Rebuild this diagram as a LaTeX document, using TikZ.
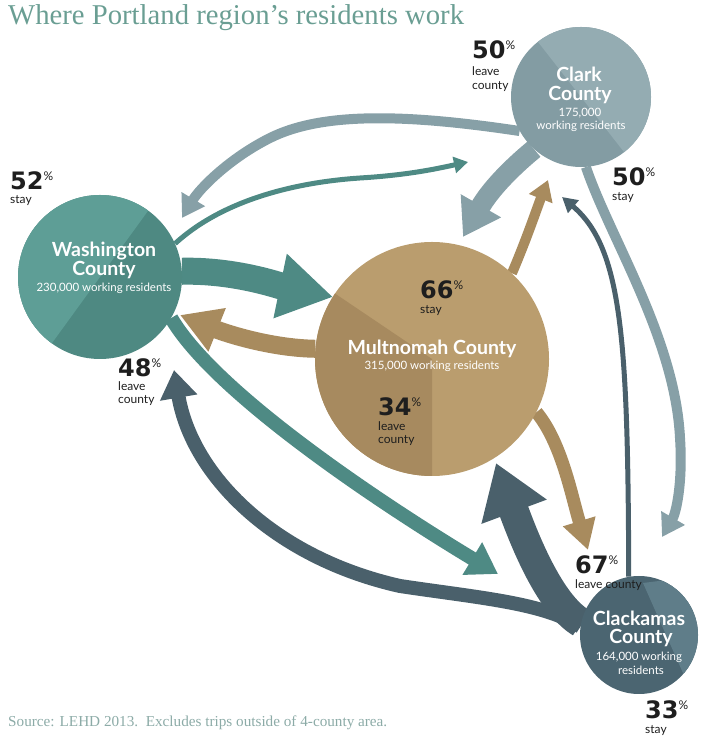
\documentclass[tikz,border=0pt]{standalone}
\usepackage{fontspec}
\setmainfont{Lato}
\newfontfamily\titlefont{Liberation Serif}
\newfontfamily\numfont{DejaVu Sans}
\usepackage{xcolor}
\definecolor{washlight}{HTML}{5E9E96}
\definecolor{washdark}{HTML}{4E8982}
\definecolor{multlight}{HTML}{BA9D6E}
\definecolor{multdark}{HTML}{A78A5F}
\definecolor{clarklight}{HTML}{94ACB2}
\definecolor{clarkdark}{HTML}{839CA3}
\definecolor{clackdark}{HTML}{4B6571}
\definecolor{clacklight}{HTML}{5F7D89}
\definecolor{washarrow}{HTML}{4E8A84}
\definecolor{multarrow}{HTML}{A88B5E}
\definecolor{clarkarrow}{HTML}{87A0A7}
\definecolor{clackarrow}{HTML}{4A606B}
\definecolor{inkblack}{HTML}{1E1E1E}
\definecolor{titleteal}{HTML}{6A9E93}
\definecolor{sourcegray}{HTML}{8CABA7}
\usetikzlibrary{arrows.meta, backgrounds}
\newcommand{\pctnum}[1]{{\numfont\bfseries\fontsize{24}{24}\selectfont #1}\raisebox{9pt}{\fontsize{12}{12}\selectfont\%}}

\begin{document}
\begin{tikzpicture}[x=1pt, y=1pt,
  county/.style={circle, inner sep=0pt, draw=none},
  cname/.style={text=white, font=\bfseries\fontsize{19.5}{19.5}\selectfont, anchor=base, inner sep=0pt},
  cinfo/.style={text=white, font=\fontsize{11.5}{11.5}\selectfont, anchor=base, inner sep=0pt},
  pct/.style={text=inkblack, anchor=base west, inner sep=0pt},
  note/.style={text=inkblack, font=\fontsize{12}{12}\selectfont, anchor=base west, inner sep=0pt},
  flow/.style n args={3}{line width=#1, -{Triangle[width=#2, length=#3]}}
]
\useasboundingbox (0,0) rectangle (702,738);

\node[anchor=base west, inner sep=0pt, text=titleteal, font=\titlefont\fontsize{28.7}{28.7}\selectfont] (title) at (8,713) {Where Portland region’s residents work};
\node[anchor=base west, inner sep=0pt, text=sourcegray, font=\titlefont\fontsize{15.2}{15.2}\selectfont] (source) at (8,11) {Source: LEHD 2013.\ \ Excludes trips outside of 4-county area.};

\node[county, minimum size=164pt, fill=washdark, path picture={
  \fill[washlight] (path picture bounding box.center) ++(54:100) arc[start angle=54, end angle=234, radius=100] -- cycle;}] (wash) at (100,461) {};
\node[county, minimum size=234pt, fill=multlight, path picture={
  \fill[multdark] (path picture bounding box.center) -- ++(146:130) arc[start angle=146, end angle=270, radius=130] -- cycle;}] (mult) at (432,379) {};
\node[county, minimum size=140pt, fill=clarkdark, path picture={
  \fill[clarklight] (path picture bounding box.center) ++(-52:90) arc[start angle=-52, end angle=128, radius=90] -- cycle;}] (clark) at (581,641) {};
\node[county, minimum size=118pt, fill=clackdark, path picture={
  \fill[clacklight] (path picture bounding box.center) ++(4,52) -- ++(40,-90) -- ++(40,0) -- ++(0,100) -- cycle;}] (clack) at (639,103) {};

\coordinate (wmtip) at (333,441);
\coordinate (wctip) at (468,576);
\coordinate (wktip) at (498,164);
\coordinate (mwtip) at (180,423);
\coordinate (mctip) at (548,558);
\coordinate (mktip) at (588,188);
\coordinate (cwtip) at (182,520);
\coordinate (cmtip) at (463,501);
\coordinate (cktip) at (662,201);
\coordinate (kctip) at (562,541);
\coordinate (kmtip) at (496,275);
\coordinate (kwtip) at (174,368);

\begin{scope}[on background layer]
\draw[flow={27pt}{62pt}{54pt}, washarrow] (wash.4) .. controls (235,468) and (280,452) .. (wmtip);
\draw[flow={5pt}{16pt}{14pt}, washarrow] (wash.24) .. controls (225,540) and (300,556) .. (360,560) .. controls (410,563) and (440,570) .. (wctip);
\draw[flow={14pt}{36pt}{30pt}, washarrow] (wash.-30) .. controls (215,345) and (380,235) .. (wktip);
\draw[flow={18pt}{44pt}{40pt}, multarrow] (mult.175) .. controls (270,390) and (225,405) .. (mwtip);
\draw[flow={10pt}{24pt}{20pt}, multarrow] (mult.47) .. controls (527,500) and (537,530) .. (mctip);
\draw[flow={13pt}{32pt}{30pt}, multarrow] (mult.-27) .. controls (562,295) and (572,240) .. (mktip);
\draw[flow={10pt}{26pt}{22pt}, clarkarrow] (clark.209) .. controls (400,625) and (320,625) .. (270,600) .. controls (230,580) and (200,550) .. (cwtip);
\draw[flow={20pt}{44pt}{36pt}, clarkarrow] (clark.228) .. controls (510,569) and (490,548) .. (cmtip);
\draw[flow={10pt}{26pt}{22pt}, clarkarrow] (clark.-86) .. controls (610,500) and (675,400) .. (680,300) .. controls (683,255) and (676,225) .. (cktip);
\draw[flow={5pt}{16pt}{15pt}, clackarrow] (clack.100) .. controls (628,400) and (622,490) .. (kctip);
\draw[flow={30pt}{66pt}{52pt}, clackarrow] (clack.168) .. controls (548,135) and (522,205) .. (kmtip);
\draw[flow={14pt}{36pt}{28pt}, clackarrow] (clack.172) .. controls (545,135) and (480,140) .. (400,152) .. controls (275,180) and (192,262) .. (kwtip);
\end{scope}

\node[cname] (washname) at (104,481) {Washington};
\node[cname] (washcounty) at (104,462) {County};
\node[cinfo] (washinfo) at (104,446) {230,000 working residents};
\node[cname] (multname) at (432,383) {Multnomah County};
\node[cinfo] (multinfo) at (432,368) {315,000 working residents};
\node[cname] (clarkname) at (579,656) {Clark};
\node[cname] (clarkcounty) at (580,637) {County};
\node[cinfo] (clarkinfo) at (580,621) {175,000};
\node[cinfo] (clarkinfob) at (581,608) {working residents};
\node[cname] (clackname) at (639,112) {Clackamas};
\node[cname] (clackcounty) at (641,94) {County};
\node[cinfo] (clackinfo) at (639,77) {164,000 working};
\node[cinfo] (clackinfob) at (641,63) {residents};

\node[pct] (washpct) at (10,548) {\pctnum{52}};
\node[note] (washstay) at (10,534) {stay};
\node[pct] (washleavepct) at (118,361) {\pctnum{48}};
\node[note] (washleave) at (118,347) {leave};
\node[note] (washleaveb) at (118,334) {county};
\node[pct] (multpct) at (420,439) {\pctnum{66}};
\node[note] (multstay) at (420,424) {stay};
\node[pct] (multleavepct) at (378,322) {\pctnum{34}};
\node[note] (multleave) at (378,307) {leave};
\node[note] (multleaveb) at (378,294) {county};
\node[pct] (clarkleavepct) at (472,679) {\pctnum{50}};
\node[note] (clarkleave) at (472,662) {leave};
\node[note] (clarkleaveb) at (472,648) {county};
\node[pct] (clarkpct) at (612,552) {\pctnum{50}};
\node[note] (clarkstay) at (612,537) {stay};
\node[pct] (clackleavepct) at (575,164) {\pctnum{67}};
\node[note] (clackleave) at (575,149) {leave county};
\node[pct] (clackpct) at (645,19) {\pctnum{33}};
\node[note] (clackstay) at (645,5) {stay};
\end{tikzpicture}
\end{document}
